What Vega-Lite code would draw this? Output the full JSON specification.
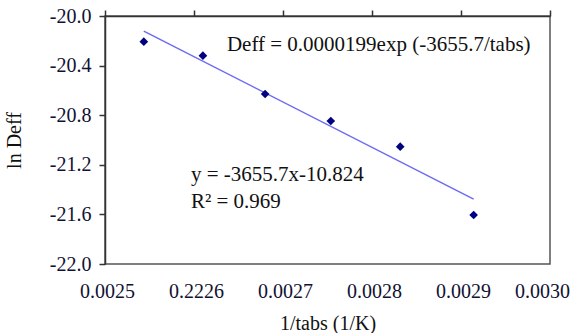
{
  "$schema": "https://vega.github.io/schema/vega-lite/v6.json",
  "width": 445,
  "height": 248,
  "autosize": "none",
  "padding": {"left": 105, "top": 16, "right": 25, "bottom": 69},
  "background": "white",
  "config": {
    "font": "Liberation Serif",
    "view": {"stroke": "#555555", "strokeWidth": 1.5},
    "axis": {"grid": false, "labelFont": "Liberation Serif", "titleFont": "Liberation Serif", "labelColor": "#111133", "titleColor": "#111111", "labelFontSize": 20, "titleFontSize": 20, "titleFontWeight": "normal", "domainColor": "#333333", "tickColor": "#333333", "domainWidth": 1.5, "tickWidth": 1.5, "labelFlush": false, "labelOverlap": false}
  },
  "datasets": {
    "pts": [
      {"x": 0.0025436, "y": -20.207},
      {"x": 0.0026100, "y": -20.320},
      {"x": 0.0026799, "y": -20.629},
      {"x": 0.0027537, "y": -20.847},
      {"x": 0.0028317, "y": -21.054},
      {"x": 0.0029142, "y": -21.605}
    ],
    "trend": [
      {"x": 0.0025436, "y": -20.122},
      {"x": 0.0029142, "y": -21.477}
    ],
    "notes": [
      {"x": 0.002637, "y": -20.234, "t": "Deff = 0.0000199exp (-3655.7/tabs)"},
      {"x": 0.0025966, "y": -21.282, "t": "y = -3655.7x-10.824"},
      {"x": 0.0025966, "y": -21.498, "t": "R² = 0.969"}
    ]
  },
  "layer": [
    {
      "data": {"name": "trend"},
      "mark": {"type": "line", "color": "#6b6bf5", "strokeWidth": 1.5},
      "encoding": {
        "x": {"field": "x", "type": "quantitative", "scale": {"domain": [0.0025, 0.003], "nice": false, "zero": false},
          "axis": {"orient": "bottom", "values": [0.0025, 0.0026, 0.0027, 0.0028, 0.0029, 0.003], "ticks": false, "tickSize": 0, "domain": false, "labelPadding": 17,
            "labelOffset": {"condition": {"test": "datum.value > 0.00295", "value": -8}, "value": 2},
            "labelExpr": "abs(datum.value - 0.0026) < 0.00000001 ? '0.2226' : format(datum.value, '.4f')",
            "title": "1/tabs (1/K)", "titlePadding": 12}},
        "y": {"field": "y", "type": "quantitative", "scale": {"domain": [-22, -20], "nice": false, "zero": false},
          "axis": {"values": [-22, -21.6, -21.2, -20.8, -20.4, -20], "tickSize": 6, "labelPadding": 8,
            "labelExpr": "replace(format(datum.value, '.1f'), '−', '-')",
            "title": "ln Deff", "titlePadding": 25}}
      }
    },
    {
      "data": {"name": "pts"},
      "mark": {"type": "point", "shape": "diamond", "filled": true, "color": "#000080", "size": 75, "opacity": 1},
      "encoding": {
        "x": {"field": "x", "type": "quantitative",
          "axis": {"orient": "top", "values": [0.0025, 0.0026, 0.0027, 0.0028, 0.0029, 0.003], "labels": false, "tickSize": 6, "title": null}},
        "y": {"field": "y", "type": "quantitative"}
      }
    },
    {
      "data": {"name": "notes"},
      "mark": {"type": "text", "align": "left", "baseline": "middle", "fontSize": 21, "color": "#111111", "font": "Liberation Serif"},
      "encoding": {
        "x": {"field": "x", "type": "quantitative", "axis": null},
        "y": {"field": "y", "type": "quantitative"},
        "text": {"field": "t"}
      }
    }
  ],
  "resolve": {"axis": {"x": "independent"}}
}
